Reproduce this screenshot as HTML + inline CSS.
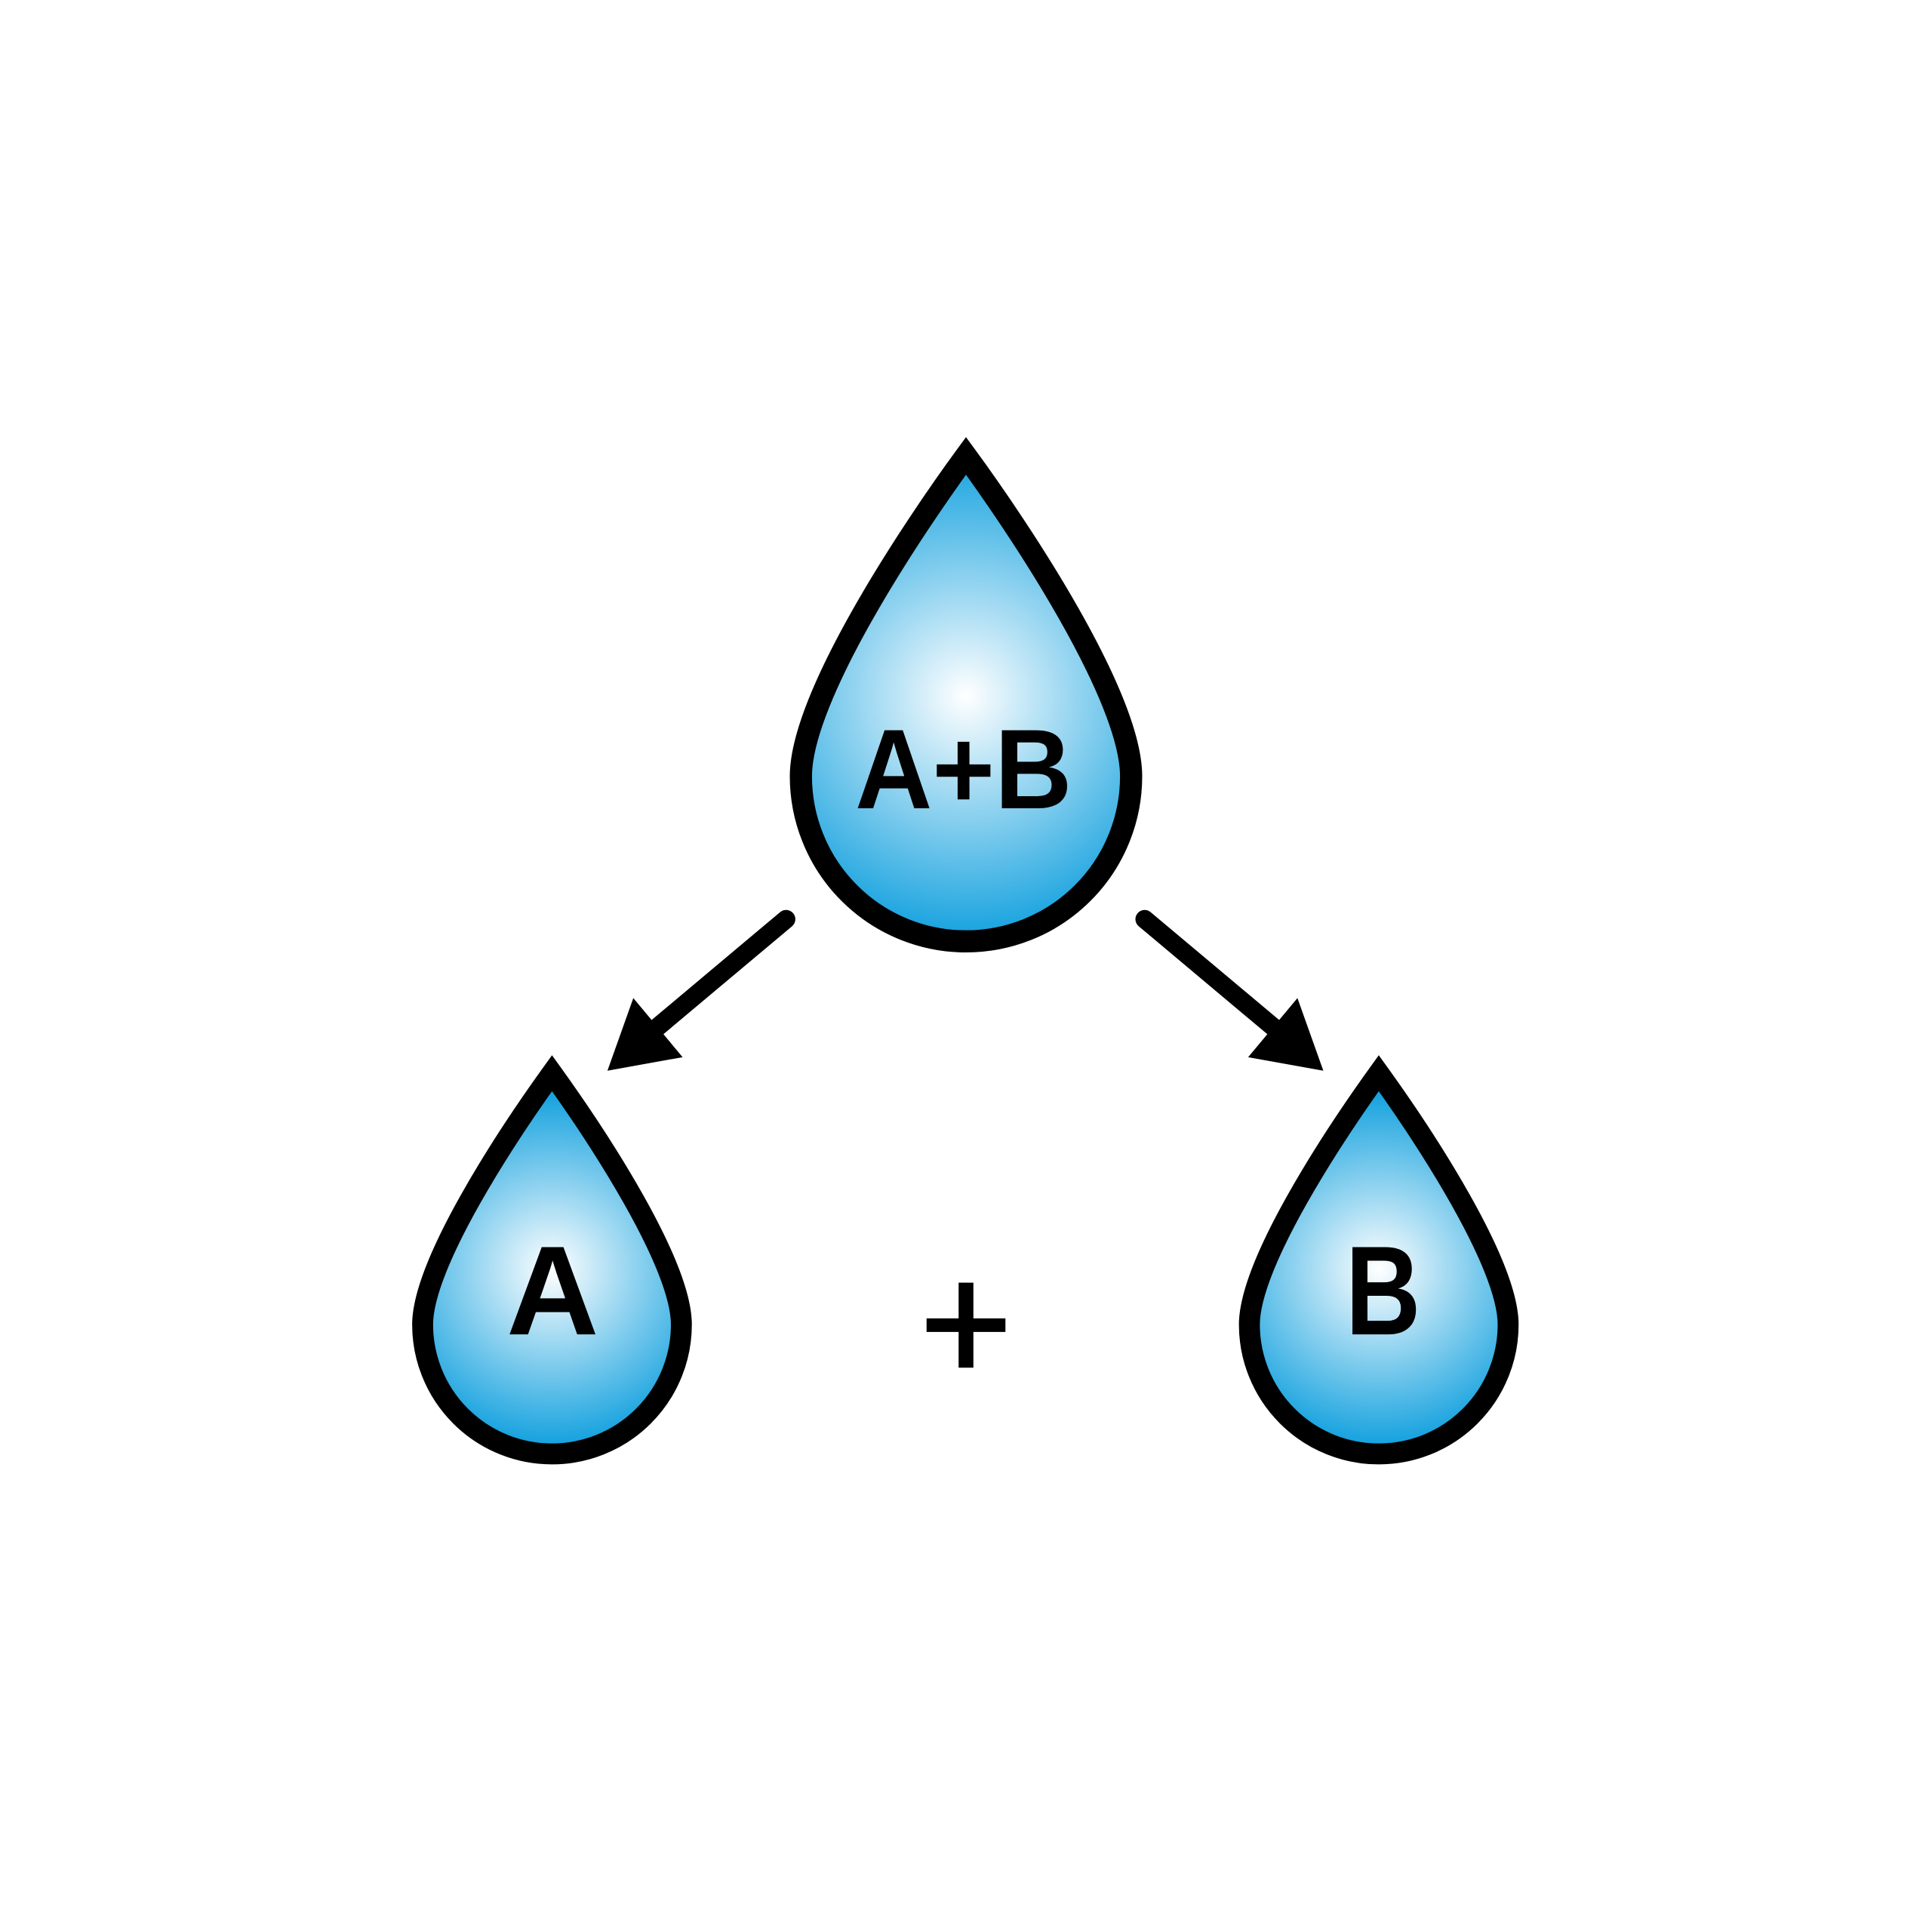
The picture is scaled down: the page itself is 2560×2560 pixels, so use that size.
<!DOCTYPE html>
<html><head><style>html,body{margin:0;padding:0;background:#fff}svg{display:block}</style></head>
<body>
<svg width="2560" height="2560" viewBox="0 0 1568 1568" xmlns="http://www.w3.org/2000/svg">
<defs>
<radialGradient id="g1" gradientUnits="userSpaceOnUse" cx="784" cy="565" r="200">
<stop offset="0" stop-color="#ffffff"/><stop offset="1" stop-color="#11a0de"/></radialGradient>
<radialGradient id="g2" gradientUnits="userSpaceOnUse" cx="448" cy="1030" r="145">
<stop offset="0" stop-color="#ffffff"/><stop offset="1" stop-color="#11a0de"/></radialGradient>
<radialGradient id="g3" gradientUnits="userSpaceOnUse" cx="1119" cy="1030" r="145">
<stop offset="0" stop-color="#ffffff"/><stop offset="1" stop-color="#11a0de"/></radialGradient>
</defs>
<path d="M784,370 C740,430 650,565 650,630 A134,134 0 0 0 918,630 C918,565 828,430 784,370 Z" fill="url(#g1)" stroke="#000" stroke-width="18"/>
<path d="M448,871 C412,921 343,1025 343,1075 A105,105 0 0 0 553,1075 C553,1025 484,921 448,871 Z" fill="url(#g2)" stroke="#000" stroke-width="17"/>
<path d="M1119,871 C1083,921 1014,1025 1014,1075 A105,105 0 0 0 1224,1075 C1224,1025 1155,921 1119,871 Z" fill="url(#g3)" stroke="#000" stroke-width="17"/>
<text x="694" y="656" font-family="Liberation Sans, sans-serif" font-weight="bold" font-size="92" textLength="176" lengthAdjust="spacingAndGlyphs">A+B</text>
<text x="411" y="1083" font-family="Liberation Sans, sans-serif" font-weight="bold" font-size="103" textLength="75" lengthAdjust="spacingAndGlyphs">A</text>
<text x="1092" y="1083" font-family="Liberation Sans, sans-serif" font-weight="bold" font-size="103" textLength="61" lengthAdjust="spacingAndGlyphs">B</text>
<rect x="752" y="1070" width="64" height="11" fill="#000"/>
<rect x="778" y="1041" width="12" height="69" fill="#000"/>
<line x1="638" y1="746" x2="526" y2="840" stroke="#000" stroke-width="15" stroke-linecap="round"/>
<polygon points="514,810 493,869 554,858" fill="#000"/>
<line x1="929" y1="746" x2="1041" y2="840" stroke="#000" stroke-width="15" stroke-linecap="round"/>
<polygon points="1053,810 1074,869 1013,858" fill="#000"/>
</svg>
</body></html>
